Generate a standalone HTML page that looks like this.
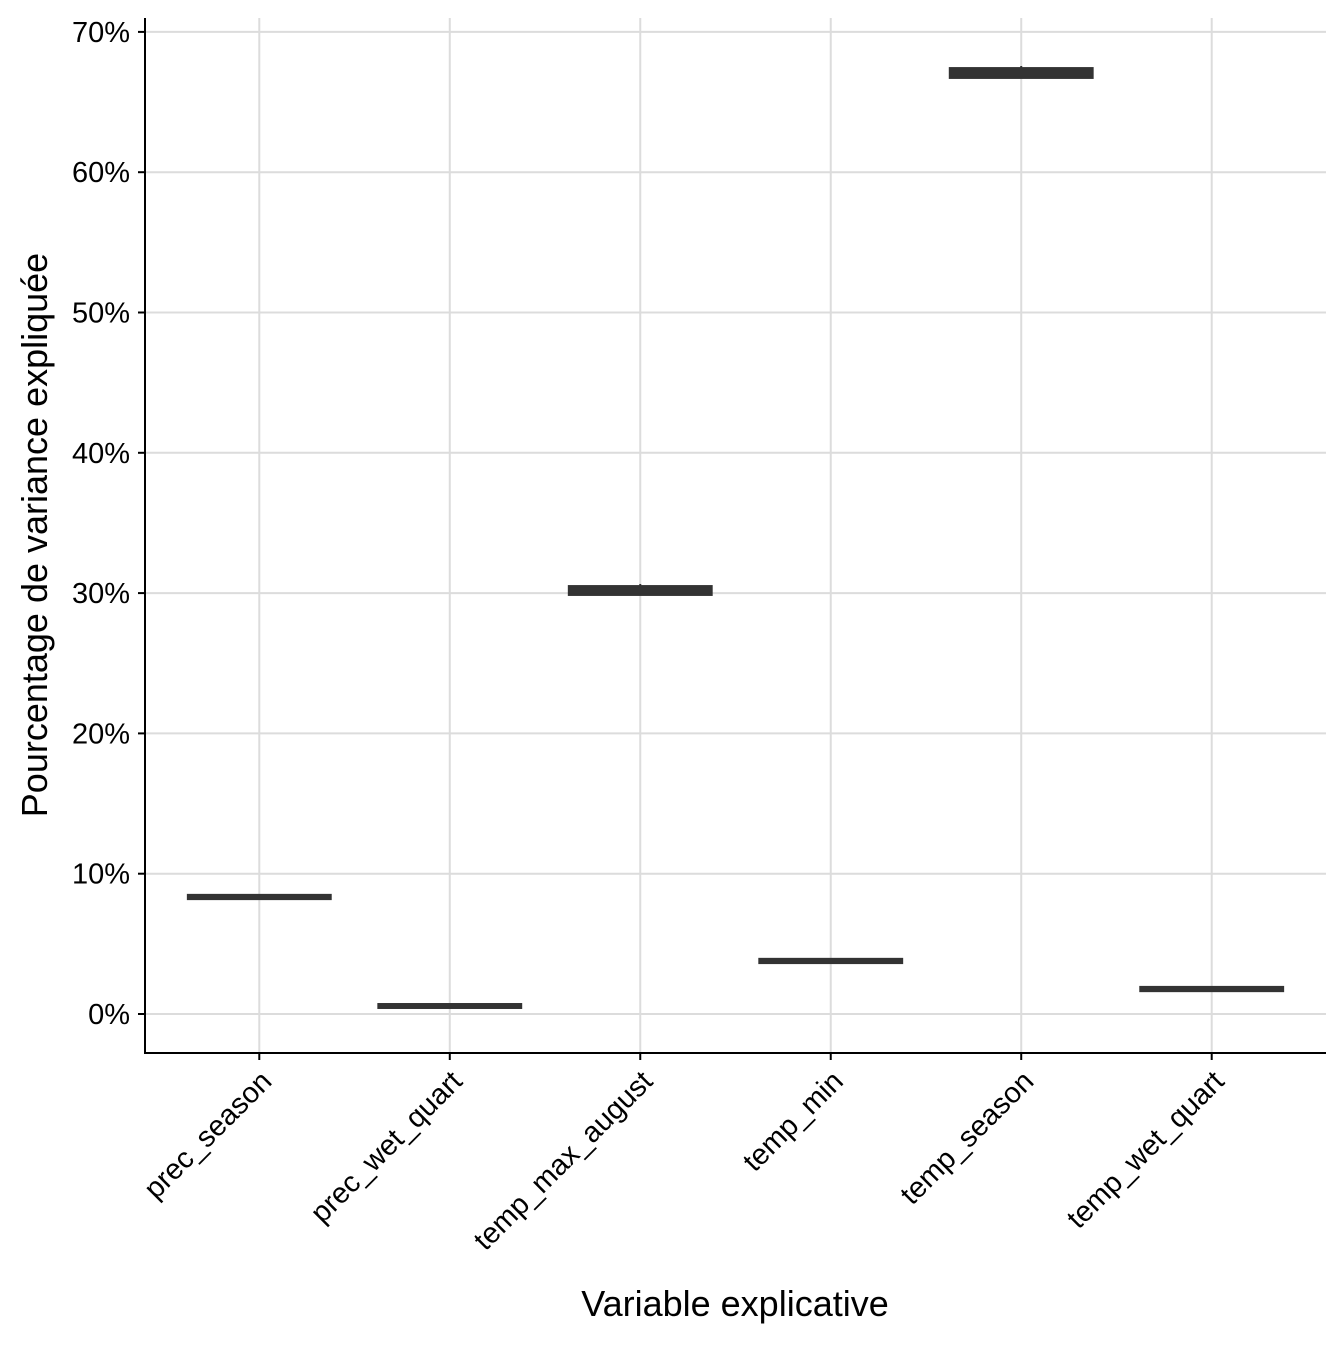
<!DOCTYPE html>
<html><head><meta charset="utf-8"><style>
body{margin:0;background:#fff;}
svg text{font-family:"Liberation Sans",Arial,sans-serif;}
</style></head><body>
<svg id="chart" width="1344" height="1344" xmlns="http://www.w3.org/2000/svg">
<g id="grid"></g><g id="marks"></g><g id="axes"></g>
<text x="735" y="1316" font-size="36" text-anchor="middle" fill="#000">Variable explicative</text>
<text transform="translate(47,535) rotate(-90)" font-size="36" text-anchor="middle" fill="#000">Pourcentage de variance expliquée</text>
</svg>
<script>
const categories=["prec_season","prec_wet_quart","temp_max_august","temp_min","temp_season","temp_wet_quart"];
const lowerVals=[8.24,0.48,29.9,3.68,66.72,1.68];
const q1Vals=[8.26,0.5,29.94,3.7,66.79,1.7];
const medianVals=[8.34,0.57,30.15,3.78,67.14,1.78];
const q3Vals=[8.42,0.64,30.43,3.86,67.35,1.86];
const upperVals=[8.44,0.66,30.65,3.88,67.57,1.88];
const yTicks=[0,10,20,30,40,50,60,70];
const yTickLabels=["0%","10%","20%","30%","40%","50%","60%","70%"];
const NS="http://www.w3.org/2000/svg";
const L=145,R=1326,T=18,B=1053;
const y=v=>1014-v*14.03;
const unit=(R-L)/(categories.length-1+1.2);
const x=i=>L+unit*(0.6+i);
function mk(tag,attrs,parent){const e=document.createElementNS(NS,tag);for(const k in attrs)e.setAttribute(k,attrs[k]);document.getElementById(parent).appendChild(e);return e;}
yTicks.forEach((t,i)=>{
 const g=mk("line",{x1:L,x2:R,y1:y(t),y2:y(t),stroke:"#dcdcdc","stroke-width":2},"grid");
 
 
 const tk=mk("line",{x1:L-7,x2:L,y1:y(t),y2:y(t),stroke:"#000","stroke-width":2},"axes");
 
 
 const lb=mk("text",{x:L-15,y:y(t)+10,"font-size":29,"text-anchor":"end",fill:"#000"},"axes");
 lb.textContent=yTickLabels[i];
 
 
});
categories.forEach((c,i)=>{
 const g=mk("line",{x1:x(i),x2:x(i),y1:T,y2:B,stroke:"#dcdcdc","stroke-width":2},"grid");
 
 
 const tk=mk("line",{x1:x(i),x2:x(i),y1:B,y2:B+7,stroke:"#000","stroke-width":2},"axes");
 
 
 const lb=mk("text",{transform:`translate(${x(i)+14},${B+30}) rotate(-45)`,"font-size":29,"text-anchor":"end",fill:"#000"},"axes");
 lb.textContent=c;
 
 
 const w=unit*0.75;
 const wh=mk("line",{x1:x(i),x2:x(i),y1:y(upperVals[i]),y2:y(lowerVals[i]),stroke:"#333","stroke-width":2},"marks");
 
 
 const top=y(q3Vals[i]),bot=y(q1Vals[i]);
 const bx=mk("rect",{x:x(i)-w/2,y:top-1,width:w,height:Math.max(bot-top,0)+2,fill:"#333",stroke:"#333","stroke-width":2},"marks");
 
 
 const md=mk("line",{x1:x(i)-w/2,x2:x(i)+w/2,y1:y(medianVals[i]),y2:y(medianVals[i]),stroke:"#333","stroke-width":4},"marks");
 
 
});
const ax=mk("path",{d:`M${L},${T} V${B} H${R}`,fill:"none",stroke:"#000","stroke-width":2},"axes");


</script>
</body></html>
